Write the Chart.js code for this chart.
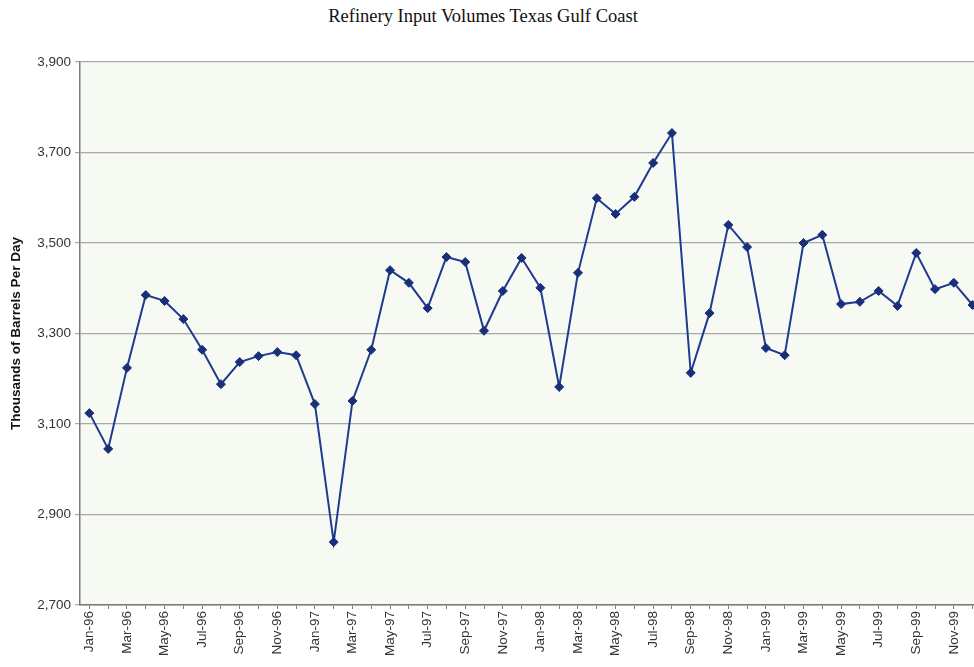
<!DOCTYPE html>
<html>
<head>
<meta charset="utf-8">
<script src="https://cdn.jsdelivr.net/npm/chart.js@4/dist/chart.umd.min.js"></script>
<style>
  html, body { margin: 0; padding: 0; background: #ffffff; overflow: hidden; width: 974px; height: 667px; }
  #title { position: absolute; left: 0; top: 6px; width: 966px; text-align: center;
           font-family: "Liberation Serif", "Times New Roman", serif; font-size: 18.5px; color: #111; }
  #wrap { position: absolute; left: 0; top: 0; width: 1000px; height: 667px; }
</style>
</head>
<body>
<div id="title">Refinery Input Volumes Texas Gulf Coast</div>
<div id="wrap"><canvas id="c" width="1000" height="667"></canvas></div>
<script>
const months = ["Jan","Feb","Mar","Apr","May","Jun","Jul","Aug","Sep","Oct","Nov","Dec"];
const years = ["96","97","98","99"];
const categories = [];
years.forEach(y => months.forEach(m => categories.push(m + "-" + y)));

const inputVolumes = [
  3124, 3045, 3224, 3385, 3372, 3332, 3264, 3188, 3237, 3250, 3259, 3252,
  3144, 2839, 3151, 3264, 3440, 3412, 3356, 3469, 3458, 3306, 3394, 3467,
  3401, 3182, 3434, 3599, 3564, 3602, 3677, 3743, 3213, 3345, 3540, 3491,
  3268, 3252, 3500, 3518, 3365, 3370, 3394, 3361, 3478, 3398, 3412, 3363
];
const yTicks = [2700, 2900, 3100, 3300, 3500, 3700, 3900];

const plotBg = {
  id: "plotBg",
  beforeDraw(chart) {
    const { ctx, chartArea: a } = chart;
    ctx.save();
    ctx.fillStyle = "#f7f9f3";
    ctx.fillRect(a.left, a.top, a.right - a.left, a.bottom - a.top);
    ctx.restore();
  }
};

new Chart(document.getElementById("c"), {
  type: "line",
  data: {
    labels: categories,
    datasets: [{
      data: inputVolumes,
      borderColor: "#1f3b8f",
      backgroundColor: "#1a2f7a",
      borderWidth: 2,
      pointStyle: "rectRot",
      pointRadius: 4.5,
      pointBorderWidth: 1,
      pointBorderColor: "#1a2f7a",
      tension: 0,
      fill: false
    }]
  },
  options: {
    responsive: false,
    animation: false,
    layout: { padding: { top: 62, right: 18, bottom: 0, left: 6 } },
    plugins: { legend: { display: false }, tooltip: { enabled: false }, title: { display: false } },
    scales: {
      x: {
        type: "category",
        offset: true,
        afterFit(scale) { scale.height = 62; },
        grid: { display: true, drawOnChartArea: false, drawTicks: true, tickLength: 4, color: "#808080", offset: false },
        border: { display: true, color: "#7a7a7a", width: 1.5 },
        ticks: {
          autoSkip: false,
          maxRotation: 90,
          minRotation: 90,
          padding: 2,
          color: "#333",
          font: { family: "'Liberation Sans', Arial, sans-serif", size: 13.5 },
          callback(value, index) { return index % 2 === 0 ? categories[index] : ""; }
        }
      },
      y: {
        min: 2700,
        max: 3900,
        afterFit(scale) { scale.width = 74; },
        afterBuildTicks(scale) { scale.ticks = yTicks.map(v => ({ value: v })); },
        grid: { color: "#a8a8a8", lineWidth: 1.2, drawTicks: true, tickLength: 5 },
        border: { display: true, color: "#7a7a7a", width: 1.5 },
        ticks: {
          padding: 4,
          color: "#333",
          font: { family: "'Liberation Sans', Arial, sans-serif", size: 13.5 },
          callback(v) { return v.toLocaleString("en-US"); }
        },
        title: {
          display: true,
          text: "Thousands of Barrels Per Day",
          color: "#111",
          padding: { top: 2, bottom: 4 },
          font: { family: "'Liberation Sans', Arial, sans-serif", size: 13.5, weight: "bold" }
        }
      }
    }
  },
  plugins: [plotBg]
});
</script>
</body>
</html>
